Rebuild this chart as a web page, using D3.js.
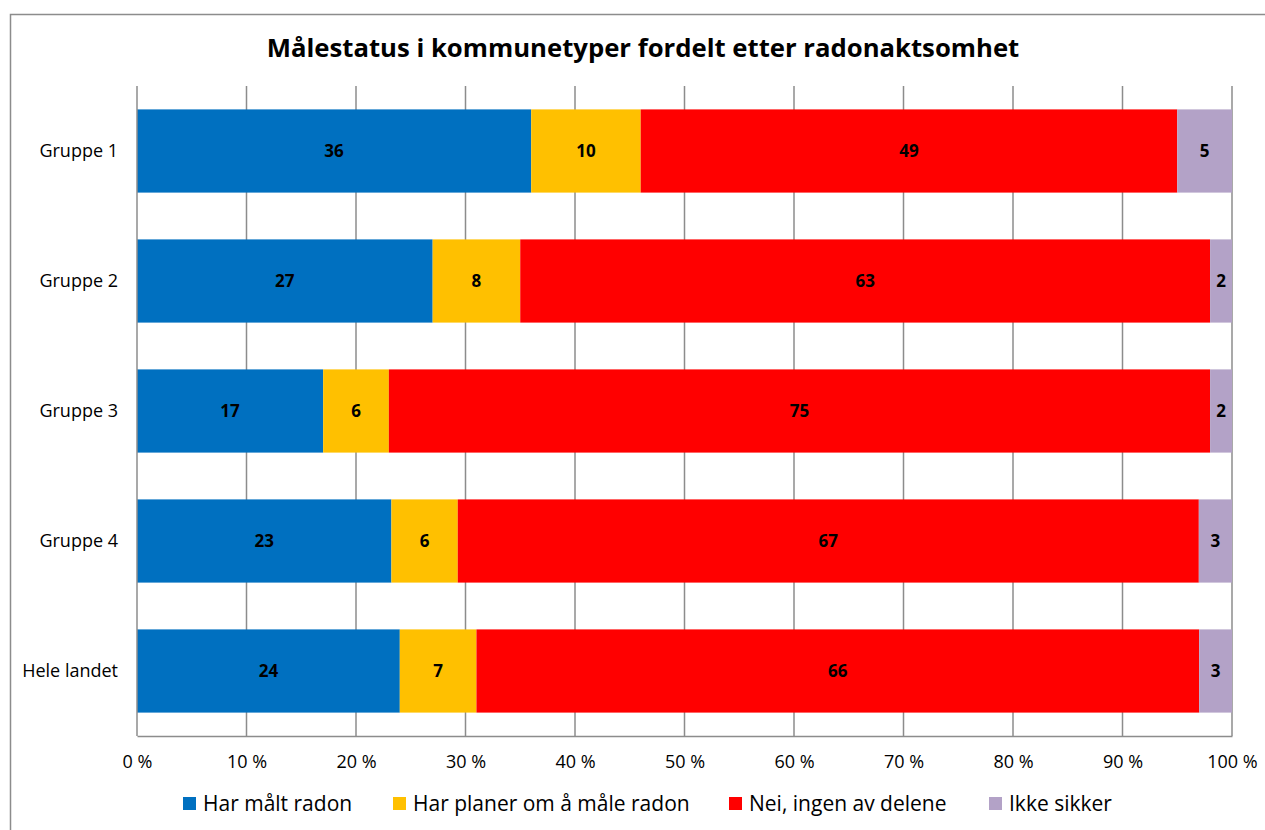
<!DOCTYPE html>
<html>
<head>
<meta charset="utf-8">
<script src="https://cdn.jsdelivr.net/npm/d3@7"></script>
<style>
    body { margin: 0; background: #fff; }
    svg { font-family: "Open Sans", sans-serif; }
    .grid line { stroke: #8c8c8c; stroke-width: 1.5; }
    .axis text { font-family: "Open Sans", sans-serif; font-size: 18px; fill: #000; }
    .axis path, .axis line { stroke: #8c8c8c; stroke-width: 1.5; }
</style>
</head>
<body>
<svg id="chart"></svg>
<script>
// categories and series
const categories = ['Gruppe 1', 'Gruppe 2', 'Gruppe 3', 'Gruppe 4', 'Hele landet'];
const seriesNames = ['Har målt radon', 'Har planer om å måle radon', 'Nei, ingen av delene', 'Ikke sikker'];
const seriesColors = ['#0070c0', '#ffc000', '#ff0000', '#b3a2c7'];

// values per series (one value per category)
const harMalt   = [36, 27, 17, 23, 24];
const harPlaner = [10, 8, 6, 6, 7];
const nei       = [49, 63, 75, 67, 66];
const ikkeSikker = [5, 2, 2, 3, 3];

const tickValues = [0, 0.1, 0.2, 0.3, 0.4, 0.5, 0.6, 0.7, 0.8, 0.9, 1];
const tickLabels = ['0 %', '10 %', '20 %', '30 %', '40 %', '50 %', '60 %', '70 %', '80 %', '90 %', '100 %'];

const title = 'Målestatus i kommunetyper fordelt etter radonaktsomhet';

const config = {
    width: 1265,
    height: 830,
    margin: {top: 86, right: 33, bottom: 94, left: 137}
};

const innerW = config.width - config.margin.left - config.margin.right;
const innerH = config.height - config.margin.top - config.margin.bottom;

// build table for the stack
const table = categories.map((c, i) => ({
    category: c,
    0: harMalt[i], 1: harPlaner[i], 2: nei[i], 3: ikkeSikker[i]
}));

// 100% stacked, values get normalised per category
const stack = d3.stack()
    .keys([0, 1, 2, 3])
    .offset(d3.stackOffsetExpand);
const stacked = stack(table);

const svg = d3.select('#chart')
    .attr('width', config.width)
    .attr('height', config.height);

// outer chart border
svg.append('rect')
    .attr('x', 10.5).attr('y', 14.5)
    .attr('width', config.width).attr('height', config.height)
    .attr('fill', 'none')
    .attr('stroke', '#8c8c8c')
    .attr('stroke-width', 1.5);

svg.append('text')
    .attr('x', 643).attr('y', 57)
    .attr('text-anchor', 'middle')
    .attr('font-size', 25.7)
    .attr('font-weight', 'bold')
    .text(title);

const chart = svg.append('g')
    .attr('transform', `translate(${config.margin.left},${config.margin.top})`);

const xScale = d3.scaleLinear().domain([0, 1]).range([0, innerW]);
const yScale = d3.scaleBand()
    .domain(categories)
    .range([0, innerH])
    .paddingInner(0.36)
    .paddingOuter(0.18);
const color = d3.scaleOrdinal().domain([0, 1, 2, 3]).range(seriesColors);

// vertical gridlines
chart.append('g')
    .attr('class', 'grid')
    .selectAll('line')
    .data(tickValues.slice(1))
    .join('line')
    .attr('x1', d => xScale(d)).attr('x2', d => xScale(d))
    .attr('y1', 0).attr('y2', innerH);

// bars
const layers = chart.append('g')
    .selectAll('g')
    .data(stacked)
    .join('g')
    .attr('fill', d => color(d.key));

layers.selectAll('rect')
    .data(d => d)
    .join('rect')
    .attr('x', d => xScale(d[0]))
    .attr('y', d => yScale(d.data.category))
    .attr('width', d => xScale(d[1]) - xScale(d[0]))
    .attr('height', yScale.bandwidth());

// data labels
layers.selectAll('text')
    .data(d => d.map(v => ({v, key: d.key})))
    .join('text')
    .attr('x', d => xScale((d.v[0] + d.v[1]) / 2))
    .attr('y', d => yScale(d.v.data.category) + yScale.bandwidth() / 2)
    .attr('dy', '0.35em')
    .attr('text-anchor', 'middle')
    .attr('font-size', 17)
    .attr('font-weight', 'bold')
    .attr('fill', '#000')
    .text(d => d.v.data[d.key]);

// axes
const xAxis = d3.axisBottom(xScale)
    .tickValues(tickValues)
    .tickFormat((d, i) => tickLabels[i])
    .tickSize(0)
    .tickPadding(19);
chart.append('g')
    .attr('class', 'axis x-axis')
    .attr('transform', `translate(0,${innerH})`)
    .call(xAxis);

const yAxis = d3.axisLeft(yScale)
    .tickSize(0)
    .tickPadding(19);
chart.append('g')
    .attr('class', 'axis y-axis')
    .call(yAxis)
    .call(g => g.select('.domain').attr('d', `M0,0V${innerH}`));

// legend
const legendX = [183, 393, 729, 989];
const legend = svg.append('g')
    .selectAll('g')
    .data(seriesNames)
    .join('g')
    .attr('transform', (d, i) => `translate(${legendX[i]},804)`);
legend.append('rect')
    .attr('x', 0).attr('y', -7)
    .attr('width', 13).attr('height', 13)
    .attr('fill', (d, i) => seriesColors[i]);
legend.append('text')
    .attr('x', 20)
    .attr('dy', '0.35em')
    .attr('font-size', 21)
    .text(d => d);
</script>
</body>
</html>
